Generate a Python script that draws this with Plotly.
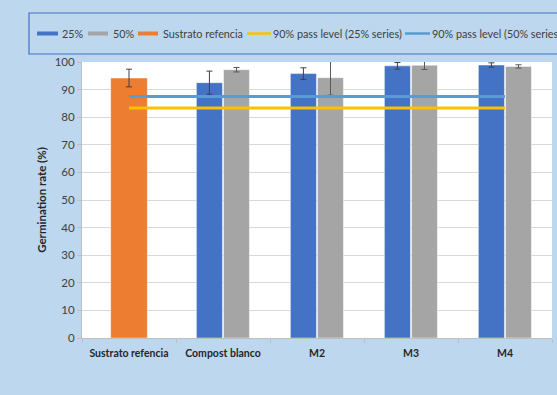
import plotly.graph_objects as go

categories = ["Sustrato refencia", "Compost blanco", "M2", "M3", "M4"]
treat_cats = ["Compost blanco", "M2", "M3", "M4"]
s25 = [92.5, 95.8, 98.6, 98.9]
s25_err = [4.2, 2.1, 1.2, 0.8]
s50 = [97.2, 94.3, 98.8, 98.4]
s50_err = [0.8, 6.3, 1.5, 0.6]
ref_cat = ["Sustrato refencia"]
ref_val = [94.2]
ref_err = [3.2]
pass25 = [83.3, 83.3, 83.3, 83.3, 83.3]
pass50 = [87.5, 87.5, 87.5, 87.5, 87.5]

FONT = "Lato"
BG = "#BDD7EE"
ERR = "#404040"
C25, C50, CREF, CY, CB = "#4472C4", "#A5A5A5", "#ED7D31", "#FFC000", "#5B9BD5"

fig = go.Figure()
fig.add_trace(go.Bar(
    name="25%", x=treat_cats, y=s25, width=0.277, offset=-0.283,
    marker=dict(color=C25, line=dict(color="rgba(255,255,255,0.45)", width=1)),
    error_y=dict(type="data", array=s25_err, color=ERR, thickness=1, width=3),
))
fig.add_trace(go.Bar(
    name="50%", x=treat_cats, y=s50, width=0.275, offset=0.006,
    marker=dict(color=C50, line=dict(color="rgba(255,255,255,0.45)", width=1)),
    error_y=dict(type="data", array=s50_err, color="#595959", thickness=1, width=3),
))
fig.add_trace(go.Bar(
    name="Sustrato refencia", x=ref_cat, y=ref_val, width=0.39, offset=-0.195,
    marker=dict(color=CREF, line=dict(color="rgba(255,255,255,0.45)", width=1)),
    error_y=dict(type="data", array=ref_err, color=ERR, thickness=1, width=3),
))
fig.add_trace(go.Scatter(
    name="90% pass level (25% series)", x=categories, y=pass25, mode="lines",
    line=dict(color=CY, width=3),
))
fig.add_trace(go.Scatter(
    name="90% pass level (50% series)", x=categories, y=pass50, mode="lines",
    line=dict(color=CB, width=3),
))

L, R, T, B = 82, 5, 62, 57
W, H = 557, 395
pw, ph = W - L - R, H - T - B


def px(x):
    return (x - L) / pw


def py(y):
    return (H - B - y) / ph


shapes = [dict(
    type="rect", xref="paper", yref="paper",
    x0=px(29), x1=px(W + 10), y0=py(54), y1=py(13),
    line=dict(color="#4472C4", width=1.2), fillcolor="rgba(0,0,0,0)", layer="below",
)]
annotations = []
LY = 33.5
# legend: (kind, colour, x0, x1, label, text_x)
legend_items = [
    ("bar", C25, 37, 58, "25%", 60),
    ("bar", C50, 88, 108, "50%", 110.5),
    ("bar", CREF, 138, 158, "Sustrato refencia", 160.5),
    ("line", CY, 247, 271, "90% pass level (25% series)", 271),
    ("line", CB, 405, 430, "90% pass level (50% series)", 430),
]
for kind, col, x0, x1, lab, tx in legend_items:
    if kind == "bar":
        shapes.append(dict(type="rect", xref="paper", yref="paper",
                           x0=px(x0), x1=px(x1), y0=py(LY + 2), y1=py(LY - 2),
                           line=dict(width=0), fillcolor=col))
    else:
        shapes.append(dict(type="line", xref="paper", yref="paper",
                           x0=px(x0), x1=px(x1), y0=py(LY), y1=py(LY),
                           line=dict(color=col, width=2.5)))
    annotations.append(dict(xref="paper", yref="paper", x=px(tx), y=py(LY),
                            xanchor="left", yanchor="middle", showarrow=False,
                            text=lab, font=dict(family=FONT, size=10.8, color="#404040")))

fig.update_layout(
    width=W, height=H,
    margin=dict(l=L, r=R, t=T, b=B, autoexpand=False),
    paper_bgcolor=BG, plot_bgcolor="white",
    barmode="overlay",
    font=dict(family=FONT, size=10.5, color="#404040"),
    showlegend=False,
    shapes=shapes,
    annotations=annotations,
)
fig.update_xaxes(
    categoryorder="array", categoryarray=categories,
    range=[-0.5, 4.5],
    showline=True, linecolor="#BFBFBF", linewidth=1,
    ticks="outside", tickson="boundaries", ticklen=4, tickcolor="#BFBFBF",
    tickfont=dict(family=FONT, size=10.5, color="#262626", weight="bold"),
    ticklabelstandoff=5,
    showgrid=False,
)
fig.update_yaxes(
    range=[0, 100], dtick=10, tickmode="linear",
    showline=True, linecolor="#BFBFBF", linewidth=1,
    ticks="outside", ticklen=4, tickcolor="#BFBFBF",
    gridcolor="#D9D9D9", gridwidth=1,
    tickfont=dict(family=FONT, size=11.5, color="#404040"),
    title=dict(text="Germination rate (%)", font=dict(family=FONT, size=11.5, color="#262626", weight="bold"), standoff=5),
    zeroline=False,
)

fig.write_html(
    "out.html",
    config={"displayModeBar": False},
    post_script="document.body.style.margin='0';document.body.style.overflow='hidden';",
)
